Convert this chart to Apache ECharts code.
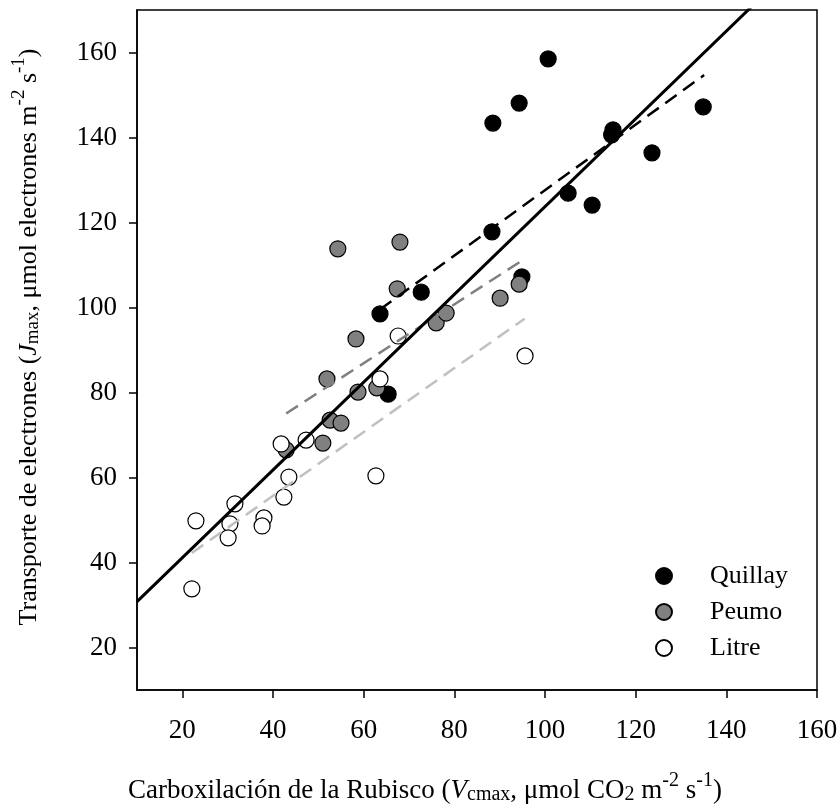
<!DOCTYPE html>
<html>
<head>
<meta charset="utf-8">
<script src="https://cdn.jsdelivr.net/npm/echarts@6/dist/echarts.min.js"></script>
<style>
  html, body { margin: 0; padding: 0; background: #fff; }
  #chart { width: 840px; height: 809px; }
</style>
</head>
<body>
<div id="chart"></div>
<script>
  // valores (Vcmax, Jmax)
  const quillayVcmax = [100.7, 94.3, 88.5, 115.0, 114.7, 134.9, 123.6, 105.1, 110.4, 88.3, 94.9, 72.7, 63.6, 65.4]
  const quillayJmax  = [158.5, 148.1, 143.4, 141.8, 140.6, 147.2, 136.4, 126.9, 124.1, 117.8, 107.2, 103.6, 98.5, 79.6]

  const peumoVcmax = [54.3, 68.0, 67.4, 58.3, 51.9, 58.75, 62.9, 76.0, 78.2, 90.1, 94.3, 52.6, 55.0, 51.0, 42.9]
  const peumoJmax  = [113.8, 115.4, 104.4, 92.6, 83.2, 80.1, 81.1, 96.4, 98.7, 102.2, 105.5, 73.5, 72.8, 68.1, 66.5]

  const litreVcmax = [67.6, 63.6, 95.6, 62.7, 41.8, 47.3, 43.5, 42.4, 31.6, 23.0, 30.5, 38.0, 37.6, 30.1, 22.1]
  const litreJmax  = [93.3, 83.2, 88.6, 60.4, 67.9, 68.8, 60.1, 55.4, 53.8, 49.8, 49.1, 50.5, 48.6, 45.8, 33.8]

  // rectas de regresion: [intercepto, pendiente, xDesde, xHasta]
  const fitTotal   = [20.47, 1.0326, 10, 160]
  const fitQuillay = [50.52, 0.771, 63.6, 135.1]
  const fitPeumo   = [45.37, 0.692, 42.9, 94.7]
  const fitLitre   = [25.65, 0.751, 22.1, 95.5]

  const xTicks = [20, 40, 60, 80, 100, 120, 140, 160]
  const yTicks = [20, 40, 60, 80, 100, 120, 140, 160]

  const font = 'Liberation Serif'

  const zip = (xs, ys) => xs.map((x, i) => [x, ys[i]])
  const fitLine = (f) => [[f[2], f[0] + f[1] * f[2]], [f[3], f[0] + f[1] * f[3]]]

  const makeRich = (size, small) => ({
    it: { fontFamily: font, fontSize: size, fontStyle: 'italic', color: '#000' },
    sub: { fontFamily: font, fontSize: small, color: '#000', verticalAlign: 'bottom', height: 28 },
    sup: { fontFamily: font, fontSize: small, color: '#000', verticalAlign: 'top', height: 16 }
  })
  const nameStyle = (size, small, pad) => ({
    fontFamily: font, fontSize: size, color: '#000', lineHeight: 36, padding: pad, rich: makeRich(size, small)
  })

  const scatter = (name, data, color) => ({
    name: name,
    type: 'scatter',
    data: data,
    symbol: 'circle',
    symbolSize: 16,
    itemStyle: { color: color, borderColor: '#000', borderWidth: 1.2, opacity: 1 },
    emphasis: { disabled: true },
    z: 2
  })
  const line = (f, color, width, dashed) => ({
    type: 'line',
    data: fitLine(f),
    symbol: 'none',
    silent: true,
    clip: true,
    lineStyle: { color: color, width: width, type: dashed ? [14, 8] : 'solid' },
    z: 3
  })

  const chart = echarts.init(document.getElementById('chart'))
  chart.setOption({
    animation: false,
    backgroundColor: '#fff',
    grid: {
      left: 137, right: 23, top: 10, bottom: 119,
      outerBoundsMode: 'none',
      show: true, borderColor: '#000', borderWidth: 1.5
    },
    legend: {
      data: ['Quillay', 'Peumo', 'Litre'],
      orient: 'vertical',
      left: 650,
      top: 558,
      icon: 'circle',
      itemWidth: 16,
      itemHeight: 16,
      itemGap: 10,
      textStyle: { fontFamily: font, fontSize: 26, color: '#000', padding: [0, 0, 0, 33] }
    },
    xAxis: {
      type: 'value',
      min: 10,
      max: 160,
      name: 'Carboxilación de la Rubisco ({it|V}{sub|cmax}, μmol CO{sub|2} m{sup|-2} s{sup|-1})',
      nameLocation: 'middle',
      nameGap: 83,
      nameTextStyle: nameStyle(27, 20, [0, 104, 0, 0]),
      axisLine: { lineStyle: { color: '#000', width: 1.5 } },
      axisTick: { customValues: xTicks, length: 8, lineStyle: { color: '#000', width: 1.5 } },
      axisLabel: { customValues: xTicks, margin: 27, fontFamily: font, fontSize: 27, color: '#000' },
      splitLine: { show: false }
    },
    yAxis: {
      type: 'value',
      min: 10,
      max: 170,
      name: 'Transporte de electrones ({it|J}{sub|max}, μmol electrones m{sup|-2} s{sup|-1})',
      nameLocation: 'middle',
      nameGap: 90,
      nameTextStyle: nameStyle(26, 19, [0, 0, 0, 26]),
      axisLine: { lineStyle: { color: '#000', width: 1.5 } },
      axisTick: { customValues: yTicks, length: 8, lineStyle: { color: '#000', width: 1.5 } },
      axisLabel: { customValues: yTicks, margin: 20, fontFamily: font, fontSize: 27, color: '#000' },
      splitLine: { show: false }
    },
    series: [
      scatter('Quillay', zip(quillayVcmax, quillayJmax), '#000'),
      scatter('Peumo', zip(peumoVcmax, peumoJmax), '#808080'),
      scatter('Litre', zip(litreVcmax, litreJmax), '#fff'),
      line(fitLitre, '#c0c0c0', 2.5, true),
      line(fitPeumo, '#808080', 2.5, true),
      line(fitQuillay, '#000', 2.5, true),
      line(fitTotal, '#000', 3, false)
    ]
  })
</script>
</body>
</html>
